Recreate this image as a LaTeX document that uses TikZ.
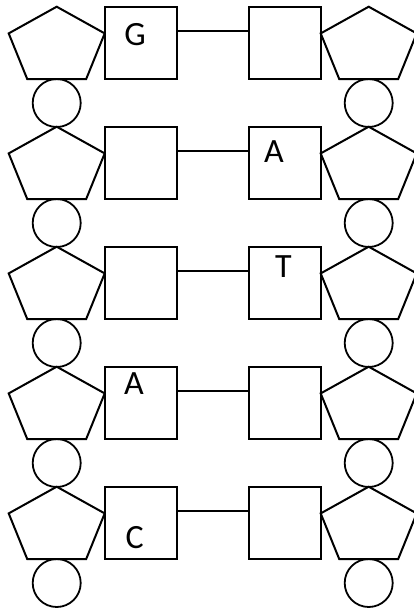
\documentclass[tikz,border=0pt]{standalone}
\usepackage{fontspec}
\setmainfont{Carlito}
\begin{document}
\begin{tikzpicture}[x=1pt,y=-1pt,
  line width=2pt,
  base/.style={draw, rectangle, minimum size=72pt, inner sep=0pt, outer sep=0pt},
  phos/.style={draw, circle, minimum size=48pt, inner sep=0pt, outer sep=0pt, line width=1.8pt},
  sugar/.style={draw, line join=miter},
  letter/.style={inner sep=0pt, anchor=base, font=\fontsize{34}{40}\selectfont},
  bond/.style={draw}]
\useasboundingbox (0,0) rectangle (414,610);

% one nucleotide pair per rung
\foreach \k in {0,...,4}{
  \pgfmathsetmacro{\t}{6.7+120*\k}
  % sugars (stretched pentagons)
  \foreach \side/\cx in {L/56.7, R/368.7}{
    \coordinate (S\side\k) at (\cx,\t);
    \draw[sugar] (S\side\k) -- ++(48,26.7) -- ++(-18.5,45.6) -- ++(-59,0)
      -- ++(-18.5,-45.6) -- cycle;
    % phosphates
    \node[phos] (P\side\k) at (\cx,\t+96.3) {};
  }
  % bases
  \node[base] (L\k) at (140.5,\t+36.2) {};
  \node[base] (R\k) at (284.7,\t+36.2) {};
  \draw[bond] ([yshift=12pt]L\k.east) -- ([yshift=12pt]R\k.west);
}

% base letters
\node[letter] (g0) at (135,45.3) {G};
\node[letter] (a1) at (274,162) {A};
\node[letter] (t2) at (283.5,277.3) {T};
\node[letter] (a3) at (134,394) {A};
\node[letter] (c4) at (134.7,548.5) {C};
\end{tikzpicture}
\end{document}
